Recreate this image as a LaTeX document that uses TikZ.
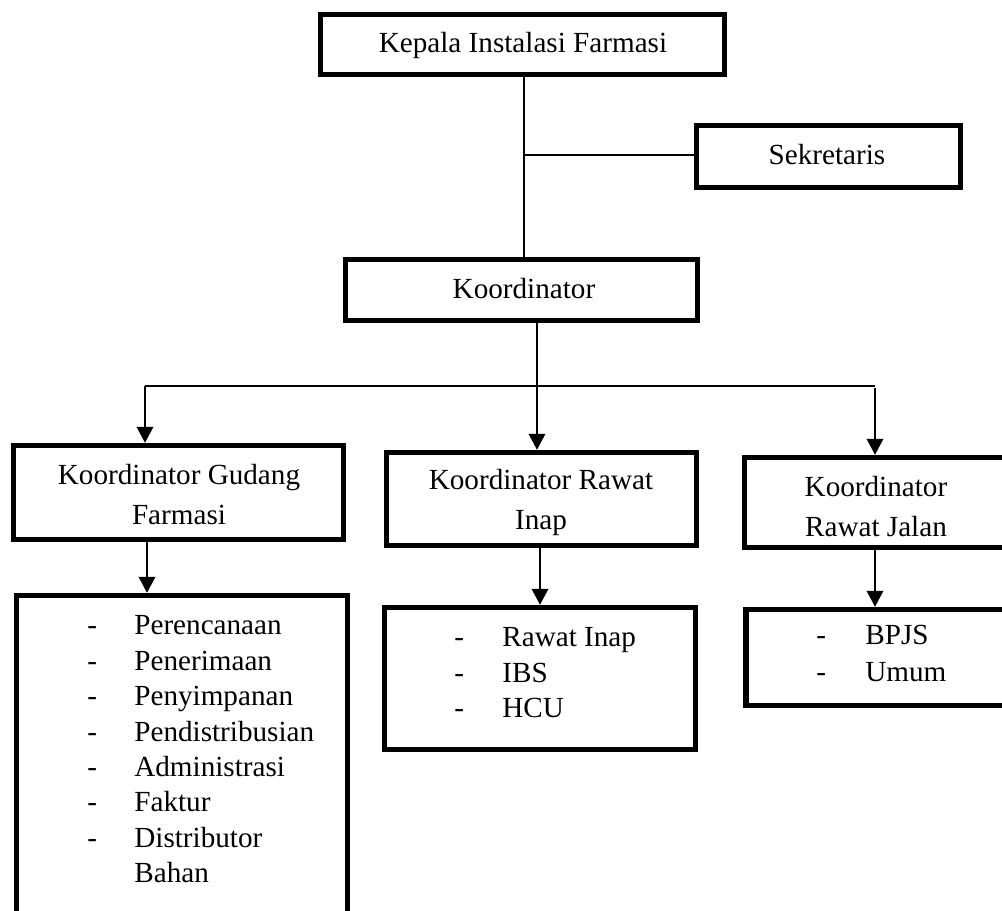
\documentclass[tikz,border=0pt]{standalone}
\usepackage{fontspec}
\setmainfont{Liberation Serif}
\usetikzlibrary{arrows.meta}
\begin{document}
\begin{tikzpicture}[x=0.02cm,y=-0.02cm,
  box/.style={draw,line width=3.1pt,rectangle,inner sep=0pt},
  txt/.style={inner sep=0pt,font=\fontsize{16.6}{20}\selectfont},
  conn/.style={line width=1.2pt},
  arr/.style={line width=1.2pt,-{Triangle[width=0.33cm,length=0.32cm]}}]
\useasboundingbox (0,0) rectangle (1002,911);
\fill[white] (0,0) rectangle (1002,911);
\clip (0,0) rectangle (1002,911);

% boxes
\node[box,minimum width=8.08cm,minimum height=1.2cm] (kepala) at (522.5,44.5) {};
\node[box,minimum width=5.28cm,minimum height=1.24cm] (sekretaris) at (828.5,156.5) {};
\node[box,minimum width=7.04cm,minimum height=1.22cm] (koord) at (521.5,290) {};
\node[box,minimum width=6.6cm,minimum height=1.88cm] (gudang) at (178.5,492.5) {};
\node[box,minimum width=6.2cm,minimum height=1.86cm] (inap) at (541.5,499) {};
\node[box,minimum width=5.26cm,minimum height=1.8cm] (jalan) at (876,502.5) {};
\node[box,minimum width=6.62cm,minimum height=6.69cm] (gudlist) at (182,762.75) {};
\node[box,minimum width=6.22cm,minimum height=2.84cm] (inaplist) at (540,678.5) {};
\node[box,minimum width=5.21cm,minimum height=1.92cm] (jalanlist) at (876,657.5) {};

% texts
\node[txt,anchor=base] (tkepala) at (523,53) {Kepala Instalasi Farmasi};
\node[txt,anchor=base] (tsek) at (827,165) {Sekretaris};
\node[txt,anchor=base] (tkoord) at (524,299) {Koordinator};
\node[txt,anchor=base] (tg1) at (179,485) {Koordinator Gudang};
\node[txt,anchor=base] (tg2) at (179,525) {Farmasi};
\node[txt,anchor=base] (ti1) at (541,490) {Koordinator Rawat};
\node[txt,anchor=base] (ti2) at (541,530) {Inap};
\node[txt,anchor=base] (tj1) at (876,497) {Koordinator};
\node[txt,anchor=base] (tj2) at (876,537) {Rawat Jalan};

\foreach \t [count=\i] in {Perencanaan,Penerimaan,Penyimpanan,Pendistribusian,Administrasi,Faktur,Distributor,Bahan}
  \node[txt,anchor=base west] (g\i) at (134,{635+35.4*(\i-1)}) {\t};
\foreach \i in {1,...,7}
  \node[txt,anchor=base west] (gd\i) at (87,{635+35.4*(\i-1)}) {-};

\foreach \t [count=\i] in {Rawat Inap,IBS,HCU}
  \node[txt,anchor=base west] (r\i) at (502,{647+35.5*(\i-1)}) {\t};
\foreach \i in {1,2,3}
  \node[txt,anchor=base west] (rd\i) at (454,{647+35.5*(\i-1)}) {-};

\foreach \t [count=\i] in {BPJS,Umum}
  \node[txt,anchor=base west] (j\i) at (865,{645+37*(\i-1)}) {\t};
\foreach \i in {1,2}
  \node[txt,anchor=base west] (jd\i) at (816,{645+37*(\i-1)}) {-};

% connectors
\coordinate (jS) at (524,155);
\draw[conn] (kepala.south -| jS) -- (koord.north -| jS);
\draw[conn] (jS) -- (jS -| sekretaris.west);

\coordinate (jK) at (537,386);
\coordinate (hL) at (145,386);
\coordinate (hR) at (875,386);
\draw[line width=0.9pt] (koord.south -| jK) -- (jK);
\draw[conn] (hL) -- (hR);
\draw[arr] (hL) -- (hL |- gudang.north);
\draw[arr] (jK) -- (jK |- inap.north);
\draw[arr] ([yshift=-0.04cm]hR) -- (hR |- jalan.north);

\coordinate (xG) at (147,0);
\coordinate (xI) at (540,0);
\coordinate (xJ) at (875,0);
\draw[arr] (xG |- gudang.south) -- (xG |- gudlist.north);
\draw[arr] (xI |- inap.south) -- (xI |- inaplist.north);
\draw[arr] (xJ |- jalan.south) -- (xJ |- jalanlist.north);
\end{tikzpicture}
\end{document}
